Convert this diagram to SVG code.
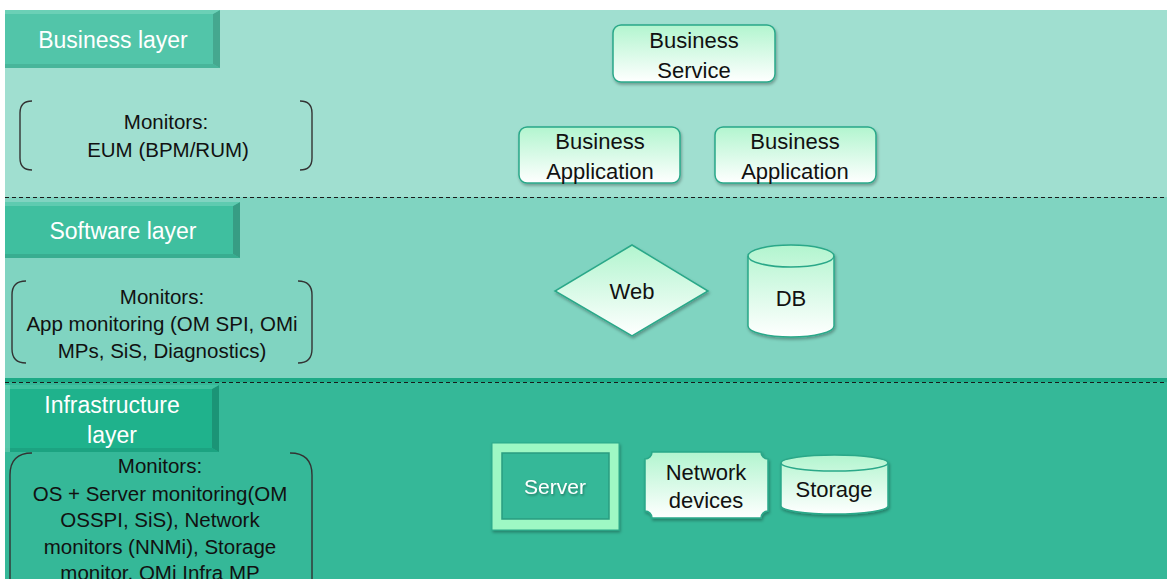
<svg xmlns="http://www.w3.org/2000/svg" width="1167" height="579" viewBox="0 0 1167 579">
  <defs>
    <linearGradient id="nodeFill" x1="0" y1="0" x2="0" y2="1">
      <stop offset="0" stop-color="#b2f5cf"/>
      <stop offset="1" stop-color="#ffffff"/>
    </linearGradient>
    <filter id="shadow" x="-10%" y="-10%" width="125%" height="130%">
      <feDropShadow dx="1" dy="2" stdDeviation="1.5" flood-color="#000" flood-opacity="0.3"/>
    </filter>
    <filter id="textGlow" x="-10%" y="-20%" width="120%" height="150%">
      <feDropShadow dx="1" dy="1.5" stdDeviation="1" flood-color="#000" flood-opacity="0.35"/>
    </filter>
  </defs>
  <style>
    text { font-family: "Liberation Sans", Arial, sans-serif; text-anchor: middle; dominant-baseline: central; }
    .layer-title { fill: #ffffff; font-size: 23px; }
    .mon { fill: #111111; font-size: 20.5px; }
    .lbl { fill: #111111; font-size: 22px; }
    .node { fill: url(#nodeFill); stroke: #2aa889; stroke-width: 1.5; filter: url(#shadow); }
    .bracket { fill: none; stroke: #333333; stroke-width: 1.4; }
    .divider { stroke: #1a1a1a; stroke-width: 1.2; stroke-dasharray: 4 3; }
  </style>

  <!-- layer bands -->
  <rect x="0" y="0" width="1167" height="579" fill="#ffffff"/>
  <rect id="band-business" x="5" y="10" width="1162" height="187" fill="#a0dfd0"/>
  <rect id="band-software" x="5" y="197" width="1162" height="181" fill="#80d4c1"/>
  <rect id="band-infra" x="5" y="378" width="1162" height="201" fill="#35b898"/>
  <rect x="5" y="378" width="1162" height="4" fill="#1daa86"/>
  <line class="divider" x1="5" y1="197.5" x2="1167" y2="197.5"/>
  <line class="divider" x1="5" y1="382.5" x2="1167" y2="382.5"/>

  <!-- layer titles (bevelled tabs) -->
  <g id="title-business">
    <rect x="5" y="10" width="215" height="58" fill="#52c5a9"/>
    <polygon points="213,14 220,10 220,68 213,64" fill="#45a88f"/>
    <polygon points="5,64 213,64 220,68 5,68" fill="#48b59a"/>
    <polygon points="5,10 220,10 213,14 5,14" fill="#6bd0b6"/>
    <text class="layer-title" x="113" y="40">Business layer</text>
  </g>
  <g id="title-software">
    <rect x="5" y="202" width="235" height="56" fill="#3fbf9f"/>
    <polygon points="233,206 240,202 240,258 233,254" fill="#379d84"/>
    <polygon points="5,254 233,254 240,258 5,258" fill="#38ad90"/>
    <polygon points="5,202 240,202 233,206 5,206" fill="#5ecbb0"/>
    <text class="layer-title" x="123" y="231">Software layer</text>
  </g>
  <g id="title-infra">
    <rect x="5" y="385" width="214" height="67" fill="#1fb28c"/>
    <polygon points="212,389 219,385 219,452 212,448" fill="#1b9476"/>
    <polygon points="5,448 212,448 219,452 5,452" fill="#1ca381"/>
    <polygon points="5,385 219,385 212,389 5,389" fill="#3fc19f"/>
    <rect x="5" y="385" width="5" height="67" fill="#6fd2b8" opacity="0.7"/>
    <text class="layer-title" x="112" y="405">Infrastructure</text>
    <text class="layer-title" x="112" y="435">layer</text>
  </g>

  <!-- monitor notes -->
  <g id="monitors-business">
    <path class="bracket" d="M32,101 Q20,101 20,113 L20,158 Q20,170 32,170"/>
    <path class="bracket" d="M300,101 Q312,101 312,113 L312,158 Q312,170 300,170"/>
    <text class="mon" x="166" y="121">Monitors:</text>
    <text class="mon" x="168" y="149">EUM (BPM/RUM)</text>
  </g>
  <g id="monitors-software">
    <path class="bracket" d="M26,281 Q12,281 12,295 L12,349 Q12,363 26,363"/>
    <path class="bracket" d="M298,281 Q312,281 312,295 L312,349 Q312,363 298,363"/>
    <text class="mon" x="162" y="296">Monitors:</text>
    <text class="mon" x="162" y="323">App monitoring (OM SPI, OMi</text>
    <text class="mon" x="162" y="350">MPs, SiS, Diagnostics)</text>
  </g>
  <g id="monitors-infra">
    <path class="bracket" d="M32,453 Q10,453 10,475 L10,590"/>
    <path class="bracket" d="M290,453 Q312,453 312,475 L312,590"/>
    <text class="mon" x="160" y="465">Monitors:</text>
    <text class="mon" x="160" y="493">OS + Server monitoring(OM</text>
    <text class="mon" x="160" y="519">OSSPI, SiS), Network</text>
    <text class="mon" x="160" y="546">monitors (NNMi), Storage</text>
    <text class="mon" x="160" y="572">monitor, OMi Infra MP</text>
  </g>

  <!-- business layer nodes -->
  <g id="business-service">
    <rect class="node" x="613" y="25" width="162" height="57" rx="8"/>
    <text class="lbl" x="694" y="40">Business</text>
    <text class="lbl" x="694" y="70">Service</text>
  </g>
  <g id="business-application-1">
    <rect class="node" x="519" y="127" width="161" height="56" rx="8"/>
    <text class="lbl" x="600" y="141">Business</text>
    <text class="lbl" x="600" y="171">Application</text>
  </g>
  <g id="business-application-2">
    <rect class="node" x="715" y="127" width="161" height="56" rx="8"/>
    <text class="lbl" x="795" y="141">Business</text>
    <text class="lbl" x="795" y="171">Application</text>
  </g>

  <!-- software layer nodes -->
  <g id="web">
    <polygon class="node" points="632,245 708,291 632,336 555,291"/>
    <text class="lbl" x="632" y="291">Web</text>
  </g>
  <g id="db">
    <path class="node" d="M748,256 A43,11 0 0 1 834,256 L834,326 A43,11 0 0 1 748,326 Z"/>
    <path d="M748,256 A43,11 0 0 0 834,256" fill="none" stroke="#2aa889" stroke-width="1.5"/>
    <text class="lbl" x="791" y="298">DB</text>
  </g>

  <!-- infrastructure layer nodes -->
  <g id="server">
    <rect x="492" y="443" width="127" height="87" fill="#9ef8c4" stroke="#2aa889" stroke-width="1" filter="url(#shadow)"/>
    <rect x="502" y="453" width="107" height="66" fill="#35b898" stroke="#2a9c80" stroke-width="1.5"/>
    <text x="555" y="486" font-size="21" fill="#ffffff" filter="url(#textGlow)">Server</text>
  </g>
  <g id="network-devices">
    <path class="node" d="M652,452 L761,452 A7,7 0 0 0 768,459 L768,511 A7,7 0 0 0 761,518 L652,518 A7,7 0 0 0 645,511 L645,459 A7,7 0 0 0 652,452 Z"/>
    <text class="lbl" x="706" y="472" font-size="21">Network</text>
    <text class="lbl" x="706" y="500" font-size="21">devices</text>
  </g>
  <g id="storage">
    <path class="node" d="M781,463 A53.5,8 0 0 1 888,463 L888,506 A53.5,8 0 0 1 781,506 Z"/>
    <path d="M781,463 A53.5,8 0 0 0 888,463" fill="none" stroke="#2aa889" stroke-width="1.5"/>
    <text class="lbl" x="834" y="489" font-size="21">Storage</text>
  </g>

  <!-- connectors: none drawn between nodes -->
  <g id="connectors"/>
</svg>
